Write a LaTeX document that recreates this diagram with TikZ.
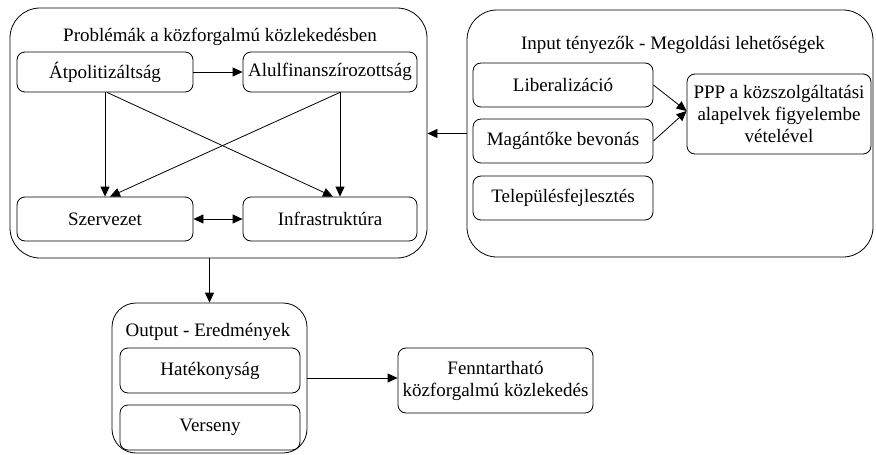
\documentclass[tikz,border=0pt]{standalone}
\usepackage{fontspec}
\setmainfont{Liberation Serif}
\newfontfamily\diagfont{Liberation Serif}
\usetikzlibrary{arrows.meta}

\tikzset{
 box/.style={draw, rounded corners=8pt, align=center, inner sep=1pt},
 frame/.style={draw, rounded corners=30pt, inner sep=0pt},
 title/.style={inner sep=0pt},
 link/.style={-{Triangle[length=10pt,width=9pt]}}
}

\begin{document}
\begin{tikzpicture}[x=1pt, y=-1pt, line width=0.8pt, font=\diagfont\fontsize{19}{22}\selectfont]
 \useasboundingbox (0,0) rectangle (876,455);
 \node [frame, minimum width=417pt, minimum height=250pt] (prob) at (218.5,133) {};
 \node [title] (probt) at (220,37) {Problémák a közforgalmú közlekedésben};
 \node [box, minimum width=176pt, minimum height=40pt] (atpol) at (105,72) {Átpolitizáltság};
 \node [box, minimum width=174pt, minimum height=40pt] (alul) at (330,72) {Alulfinanszírozottság};
 \node [box, minimum width=176pt, minimum height=44pt] (szerv) at (105,219) {Szervezet};
 \node [box, minimum width=174pt, minimum height=44pt] (infra) at (330,219) {Infrastruktúra};

 \node [frame, minimum width=406pt, minimum height=247pt] (inp) at (670,133.5) {};
 \node [title] (inpt) at (673,45) {Input tényezők - Megoldási lehetőségek};
 \node [box, minimum width=180pt, minimum height=44pt] (lib) at (563,85) {Liberalizáció};
 \node [box, minimum width=180pt, minimum height=44pt] (mag) at (563,141) {Magántőke bevonás};
 \node [box, minimum width=180pt, minimum height=44pt] (tel) at (563,198) {Településfejlesztés};
 \node [box, minimum width=184pt, minimum height=80pt] (ppp) at (779,114) {PPP a közszolgáltatási\\alapelvek figyelembe\\vételével};

 \node [frame, rounded corners=24pt, minimum width=195pt, minimum height=150pt] (out) at (209.5,378) {};
 \node [title] (outt) at (208,332) {Output - Eredmények};
 \node [box, minimum width=180pt, minimum height=45pt] (hat) at (210,370.5) {Hatékonyság};
 \node [box, minimum width=180pt, minimum height=45pt] (vers) at (210,427.5) {Verseny};
 \node [box, minimum width=195pt, minimum height=65pt] (fennt) at (495.5,380.5) {Fenntartható\\közforgalmú közlekedés};

 \draw [link] (atpol) -- (alul);
 \draw [link] (atpol.south) -- (szerv.north);
 \draw [link] ([xshift=2pt]atpol.south) -- ([xshift=3pt]infra.north);
 \draw [link] ([xshift=10pt]alul.south) -- ([xshift=10pt]infra.north);
 \draw [link] ([xshift=10pt]alul.south) -- ([xshift=5pt]szerv.north);
 \draw [{Triangle[length=10pt,width=9pt]}-{Triangle[length=10pt,width=9pt]}] (szerv) -- (infra);
 \draw [link] (inp.west) -- (inp.west -| prob.east);
 \draw [link] (lib.east) -- ([yshift=3pt]ppp.west);
 \draw [link] (mag.east) -- ([yshift=3pt]ppp.west);
 \draw [link] (out.north |- prob.south) -- (out.north);
 \draw [link] (out.east) -- (out.east -| fennt.west);
\end{tikzpicture}
\end{document}
